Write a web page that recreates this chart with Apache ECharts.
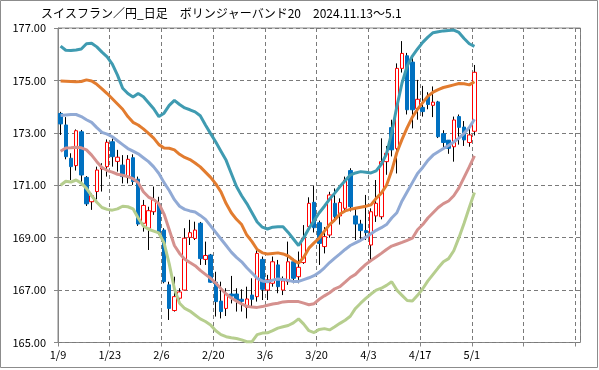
<!DOCTYPE html>
<html>
<head>
<meta charset="utf-8">
<script src="https://cdn.jsdelivr.net/npm/echarts@6/dist/echarts.min.js"></script>
<style>
html,body{margin:0;padding:0;background:#fff;}
#c{width:599px;height:370px;}
</style>
</head>
<body>
<div id="c"></div>
<script>
// ---- data ----
const titleText = 'スイスフラン／円_日足　ボリンジャーバンド20　2024.11.13～5.1';
const tickLabels = ['1/9','1/23','2/6','2/20','3/6','3/20','4/3','4/17','5/1'];
const slotCount = 101;

const openV = [173.74,173.30,172.03,171.75,173.04,171.30,170.37,170.76,171.62,171.71,
172.66,171.91,171.77,171.30,172.05,171.23,169.55,169.36,169.99,170.29,
169.29,167.20,166.22,166.69,167.00,169.01,168.97,169.55,168.17,168.34,
167.30,166.58,166.30,166.85,166.85,166.65,166.34,166.81,166.75,168.17,
167.00,167.26,167.96,167.00,167.32,168.08,167.51,168.05,169.42,170.35,
169.57,168.66,169.10,170.31,169.83,170.12,171.56,169.83,169.52,169.27,
168.72,169.83,169.80,171.90,173.20,172.40,175.46,175.94,175.70,173.93,
173.97,174.40,174.05,174.18,172.97,172.72,172.47,173.62,173.22,172.63,173.06];
const closeV = [173.34,172.09,171.71,173.08,171.39,170.29,170.60,171.58,171.68,172.64,
172.09,172.07,171.33,171.99,171.14,169.52,170.23,170.03,170.44,169.17,
167.32,166.30,166.75,166.93,168.98,169.19,169.29,168.20,168.32,167.30,
166.56,166.18,166.85,166.77,166.60,166.57,166.66,166.65,168.40,167.03,
167.39,168.08,167.13,167.35,168.08,167.45,167.87,168.98,170.31,169.38,
168.78,169.04,170.63,169.80,170.34,171.20,170.18,169.52,169.27,169.19,
169.99,170.31,171.90,172.22,172.35,175.46,176.03,173.88,173.88,174.28,
173.81,174.08,174.17,172.85,172.63,172.41,173.49,173.21,172.73,172.92,175.31];
const lowV = [172.92,171.99,171.20,171.56,171.07,170.21,170.06,170.46,170.76,171.33,
171.71,171.52,171.07,171.07,171.01,169.45,169.23,168.53,169.87,169.10,
167.26,165.86,166.18,166.43,167.00,168.72,168.91,167.96,167.96,167.28,
165.99,165.92,166.01,166.49,166.18,166.18,165.92,166.37,166.56,166.62,
166.62,167.13,166.88,166.81,167.20,167.26,167.26,168.00,169.30,169.20,
167.96,168.40,169.00,169.60,169.50,170.00,170.00,168.91,168.91,168.91,
168.08,169.60,169.70,171.40,172.10,171.45,175.30,173.70,173.17,173.50,
173.62,173.90,173.60,172.80,172.45,172.20,171.90,172.55,172.50,172.47,172.90];
const highV = [173.80,173.60,172.22,173.13,173.11,171.35,170.69,171.71,171.84,172.75,
172.79,172.35,172.15,172.15,172.18,171.33,170.44,170.18,170.95,170.56,
169.36,167.32,167.51,167.07,169.36,169.68,169.61,169.60,168.85,168.38,
167.70,167.32,167.07,167.54,167.07,167.03,167.13,167.45,168.53,168.28,
167.58,168.28,168.15,167.52,168.85,168.20,168.47,169.48,170.54,170.97,
169.65,169.40,170.75,170.88,170.50,171.33,171.65,170.12,169.68,170.63,
170.12,171.20,172.79,172.50,173.50,175.65,176.50,176.05,175.90,175.02,
174.79,174.55,174.77,174.22,173.10,172.72,173.62,173.70,173.45,173.24,175.59];

const bandP2 = [176.31,176.15,176.14,176.16,176.20,176.40,176.42,176.28,176.08,175.90,
175.62,175.20,174.70,174.50,174.37,174.50,174.38,174.15,173.92,173.62,
173.75,174.05,174.24,174.08,173.95,173.88,173.80,173.65,173.30,172.97,
172.65,172.30,171.95,171.45,170.95,170.60,170.30,169.95,169.60,169.40,
169.33,169.40,169.42,169.42,169.20,168.95,168.70,169.00,169.35,169.65,
169.95,170.20,170.47,170.70,170.95,171.17,171.39,171.47,171.52,171.50,
171.47,171.55,171.80,172.20,173.00,174.00,174.90,175.55,175.93,176.20,
176.45,176.65,176.82,176.86,176.89,176.90,176.92,176.83,176.60,176.40,176.30];
const bandP1 = [174.98,174.97,174.96,174.95,174.96,175.02,174.98,174.85,174.68,174.50,
174.30,174.10,173.90,173.62,173.40,173.30,173.15,172.98,172.80,172.55,
172.42,172.41,172.35,172.18,172.06,171.98,171.85,171.70,171.50,171.30,
171.05,170.75,170.30,169.95,169.70,169.50,169.10,168.85,168.55,168.42,
168.38,168.40,168.42,168.38,168.30,168.15,168.02,168.25,168.60,168.80,
168.98,169.25,169.50,169.68,169.90,170.02,170.08,170.12,170.16,170.20,
170.25,170.50,170.70,171.00,171.55,172.25,172.75,173.20,173.60,173.90,
174.15,174.40,174.55,174.65,174.73,174.78,174.83,174.88,174.87,174.83,174.95];
const bandMid = [173.66,173.68,173.70,173.70,173.62,173.50,173.40,173.20,173.02,172.95,
172.85,172.70,172.55,172.40,172.30,172.20,172.05,171.90,171.70,171.45,
171.10,170.80,170.45,170.20,170.08,170.02,169.98,169.85,169.70,169.45,
169.20,168.95,168.70,168.45,168.25,168.08,167.85,167.65,167.45,167.35,
167.32,167.38,167.42,167.40,167.37,167.33,167.33,167.40,167.47,167.55,
167.68,167.85,168.05,168.22,168.38,168.55,168.70,168.80,168.90,169.02,
169.15,169.28,169.38,169.50,169.75,169.95,170.40,170.75,171.10,171.45,
171.68,171.95,172.15,172.28,172.40,172.52,172.65,172.80,172.98,173.20,173.52];
const bandM1 = [172.30,172.42,172.43,172.45,172.43,172.35,172.15,171.90,171.68,171.56,
171.50,171.42,171.38,171.33,171.25,171.10,170.75,170.55,170.45,170.30,
169.90,169.30,168.70,168.40,168.18,168.05,167.93,167.75,167.60,167.45,
167.27,167.05,166.85,166.70,166.58,166.47,166.38,166.35,166.34,166.37,
166.42,166.47,166.50,166.55,166.56,166.56,166.56,166.50,166.44,166.48,
166.65,166.78,166.90,167.05,167.13,167.30,167.48,167.60,167.80,167.98,
168.13,168.26,168.40,168.55,168.68,168.75,168.82,168.90,168.98,169.30,
169.50,169.75,169.95,170.15,170.30,170.40,170.60,170.90,171.30,171.70,172.12];
const bandM2 = [171.00,171.15,171.12,171.20,171.08,170.88,170.60,170.35,170.15,170.08,
170.05,170.10,170.20,170.18,170.10,169.75,169.45,169.32,169.25,169.18,
168.80,168.00,167.05,166.50,166.30,166.20,166.05,165.90,165.80,165.67,
165.45,165.30,165.22,165.18,165.15,165.10,165.03,165.03,165.30,165.36,
165.37,165.45,165.55,165.60,165.65,165.75,165.90,165.70,165.45,165.38,
165.50,165.53,165.48,165.60,165.73,165.85,166.00,166.30,166.50,166.68,
166.85,167.00,167.07,167.18,167.32,167.00,166.80,166.60,166.58,166.80,
167.05,167.35,167.60,167.85,168.08,168.20,168.50,169.00,169.55,170.15,170.72];

// ---- build ----
const slots = [];
for (let i = 0; i < slotCount; i++) slots.push(String(i));
const wickData = openV.map((o, i) => [o, closeV[i], lowV[i], highV[i]]);
const bodyData = openV.map((o, i) => [o, closeV[i], Math.min(o, closeV[i]), Math.max(o, closeV[i])]);

const FONT = '"Noto Sans CJK JP","Noto Sans",sans-serif';
const chart = echarts.init(document.getElementById('c'), null, {renderer: 'canvas'});

function band(data, color, z) {
  return {type: 'line', data: data, xAxisIndex: 0, yAxisIndex: 0, symbol: 'none',
    lineStyle: {color: color, width: 3}, itemStyle: {color: color}, z: z, silent: true, animation: false};
}

chart.setOption({
  animation: false,
  backgroundColor: '#fff',
  grid: {left: 58, top: 28, right: 18.5, bottom: 27.5, show: true, borderColor: '#868686', borderWidth: 1, backgroundColor: '#fff'},
  graphic: [
    {type: 'rect', shape: {x: 0.5, y: 0.5, width: 597, height: 367}, style: {fill: 'none', stroke: '#8c8c8c', lineWidth: 1}, z: -10, silent: true},
    {type: 'text', left: 41, top: 7, style: {text: titleText, font: '12px ' + FONT, fill: '#000'}}
  ],
  xAxis: [
    {type: 'category', data: slots, boundaryGap: true, show: false},
    {type: 'value', min: 0, max: slotCount, interval: 10, position: 'bottom',
     axisLine: {show: false},
     axisTick: {show: true, length: 4, lineStyle: {color: '#868686'}},
     axisLabel: {margin: 7, fontSize: 11, color: '#000', fontFamily: FONT, showMaxLabel: false,
       formatter: function (v) { return (v % 10 === 0 && tickLabels[v / 10]) ? tickLabels[v / 10] : ''; }},
     splitLine: {show: true, lineStyle: {color: '#7a7a7a', type: [4, 3], width: 1}}}
  ],
  yAxis: {type: 'value', min: 165, max: 177, interval: 2,
    axisLine: {show: true, lineStyle: {color: '#868686'}},
    axisTick: {show: true, length: 4, lineStyle: {color: '#868686'}},
    axisLabel: {margin: 12, fontSize: 11, color: '#000', fontFamily: FONT, formatter: v => v.toFixed(2)},
    splitLine: {show: true, lineStyle: {color: '#7a7a7a', type: [4, 3], width: 1}}},
  series: [
    {type: 'candlestick', data: wickData, xAxisIndex: 0, barWidth: 1, z: 2, silent: true,
     itemStyle: {color: '#000', color0: '#000', borderColor: '#000', borderColor0: '#000', borderWidth: 1}},
    {type: 'candlestick', data: bodyData, xAxisIndex: 0, barWidth: 4, z: 3, silent: true,
     itemStyle: {color: '#ffffff', color0: '#0070C0', borderColor: '#FF0000', borderColor0: '#0070C0', borderWidth: 1}},
    band(bandM2, '#B6CE8E', 4),
    band(bandM1, '#D5918E', 4),
    band(bandMid, '#91AAD5', 4),
    band(bandP1, '#E27C2F', 4),
    band(bandP2, '#3F9BB1', 4)
  ]
});
</script>
</body>
</html>
